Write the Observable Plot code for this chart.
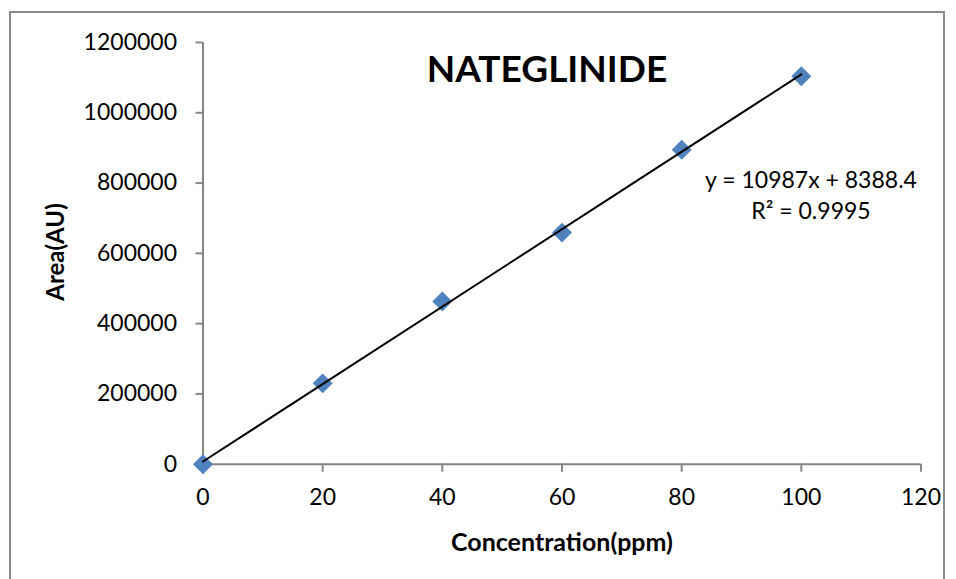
<!DOCTYPE html>
<html>
<head>
<meta charset="utf-8">
<script src="https://cdn.jsdelivr.net/npm/d3@7"></script>
<script src="https://cdn.jsdelivr.net/npm/@observablehq/plot@0.6"></script>
<style>
  html, body { margin: 0; padding: 0; background: #fff; }
  #wrap { position: relative; width: 956px; height: 579px; overflow: hidden; font-family: Lato, "Open Sans", sans-serif; }
  #box { position: absolute; left: 9px; top: 11px; width: 936px; height: 640px; border: 2px solid #8a8a8a; box-sizing: border-box; }
  #chart { position: absolute; left: 0; top: 0; }
  .txt { position: absolute; color: #000; white-space: nowrap; line-height: 1; }
</style>
</head>
<body>
<div id="wrap">
  <div id="box"></div>
  <div id="chart"></div>
  <div class="txt" id="title" style="font-weight:700;font-size:37px;left:547px;top:49px;transform:translateX(-50%);">NATEGLINIDE</div>
  <div class="txt" id="eq1" style="font-size:23px;left:811px;top:168px;transform:translateX(-50%);">y = 10987x + 8388.4</div>
  <div class="txt" id="eq2" style="font-size:23px;left:811px;top:199px;transform:translateX(-50%);">R² = 0.9995</div>
  <div class="txt" id="xlab" style="font-weight:700;font-size:25px;left:562px;top:529px;transform:translateX(-50%);">Concentration(ppm)</div>
  <div class="txt" id="ylab" style="font-weight:700;font-size:24px;left:55px;top:252px;transform:translate(-50%,-50%) rotate(-90deg);">Area(AU)</div>
</div>
<script>
const concentration = [0, 20, 40, 60, 80, 100];
const area = [0, 230000, 463000, 659000, 895000, 1104000];
const xTicks = [0, 20, 40, 60, 80, 100, 120];
const yTicks = [0, 200000, 400000, 600000, 800000, 1000000, 1200000];

const data = concentration.map((c, i) => ({c, a: area[i]}));
const axisGray = "#868686";

const chart = Plot.plot({
  width: 956,
  height: 579,
  marginLeft: 202.5,
  marginRight: 35.5,
  marginTop: 42,
  marginBottom: 115.3,
  style: {fontFamily: "Lato, 'Open Sans', sans-serif", fontSize: "23px", background: "transparent"},
  x: {domain: [0, 120]},
  y: {domain: [0, 1200000]},
  marks: [
    Plot.axisX({ticks: xTicks, tickSize: 8, tickPadding: 16, tickFormat: d => String(d), fontSize: 23, stroke: axisGray, strokeWidth: 2, fill: "#000", label: null}),
    Plot.axisY({ticks: yTicks, tickSize: 7, tickPadding: 19, tickFormat: d => String(d), fontSize: 23, stroke: axisGray, strokeWidth: 2, fill: "#000", label: null}),
    Plot.ruleY([0], {stroke: axisGray, strokeWidth: 2}),
    Plot.ruleX([0], {stroke: axisGray, strokeWidth: 2}),
    Plot.dot(data, {x: "c", y: "a", symbol: "diamond2", r: 9, fill: "#4F81BD", stroke: "none"}),
    Plot.linearRegressionY(data, {x: "c", y: "a", ci: 0, stroke: "#000", strokeWidth: 2})
  ]
});
document.getElementById("chart").appendChild(chart);
</script>
</body>
</html>
